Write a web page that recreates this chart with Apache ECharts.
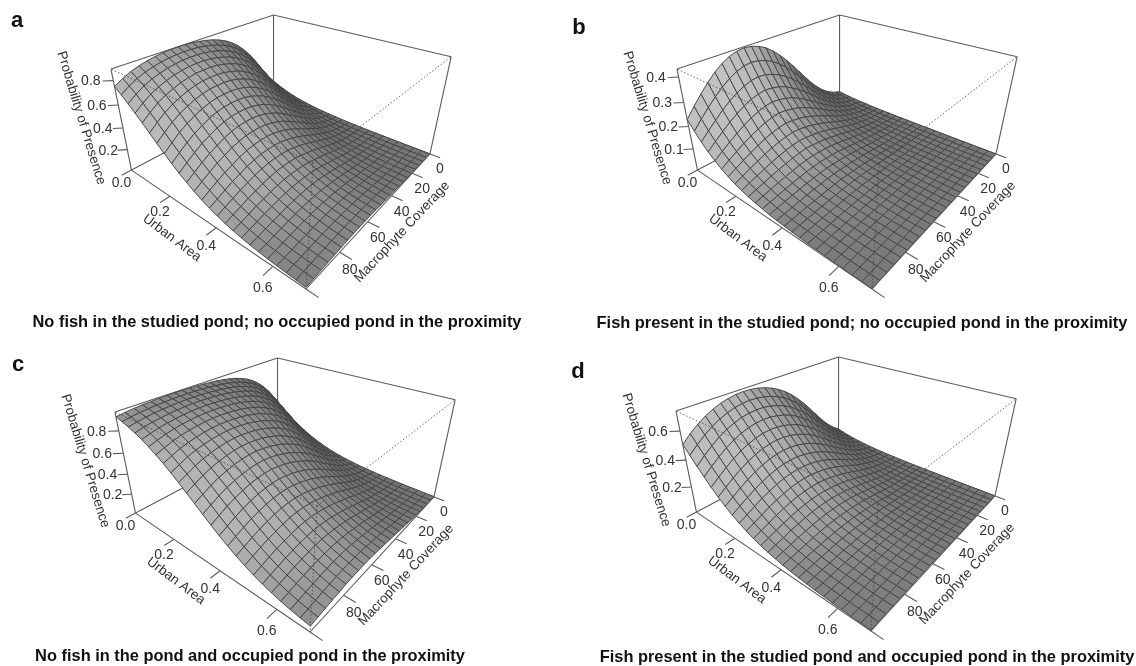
<!DOCTYPE html>
<html><head><meta charset="utf-8">
<style>html,body{margin:0;padding:0;background:#fff}#c{width:1136px;height:666px;filter:blur(.35px)}</style>
<script src="https://cdn.jsdelivr.net/npm/echarts@6/dist/echarts.min.js"></script></head>
<body><div id="c"></div>
<script>
const urbanTicks=[0,.2,.4,.6], macroTicks=[0,20,40,60,80,100];
const urbanMax=.7, macroMax=100;
// rows: macrophyte coverage 0..100, columns: urban area 0..0.7
const zA=[
[.169,.140,.115,.094,.077,.063,.051,.041,.033,.027,.022,.018,.014,.011,.009,.007,.006,.005,.004,.003,.003,.002,.002,.001,.001],
[.242,.203,.170,.141,.116,.095,.078,.063,.052,.042,.034,.027,.022,.018,.014,.012,.009,.008,.006,.005,.004,.003,.003,.002,.002],
[.327,.280,.238,.200,.167,.139,.115,.094,.077,.063,.051,.041,.033,.027,.022,.018,.014,.011,.009,.007,.006,.005,.004,.003,.003],
[.417,.364,.314,.269,.228,.191,.159,.132,.109,.090,.073,.060,.049,.040,.032,.026,.021,.017,.014,.011,.009,.007,.006,.005,.004],
[.507,.451,.397,.345,.297,.253,.214,.179,.149,.123,.101,.082,.067,.055,.044,.036,.029,.023,.019,.015,.012,.010,.008,.006,.005],
[.589,.534,.478,.423,.370,.320,.274,.232,.195,.162,.134,.110,.090,.073,.060,.048,.039,.032,.026,.021,.017,.013,.011,.009,.007],
[.659,.607,.553,.498,.443,.389,.338,.291,.248,.209,.175,.145,.120,.098,.080,.065,.053,.043,.035,.028,.023,.018,.015,.012,.010],
[.718,.671,.620,.567,.512,.457,.403,.351,.302,.258,.218,.183,.152,.126,.103,.084,.069,.056,.045,.037,.030,.024,.019,.016,.013],
[.764,.722,.675,.625,.572,.517,.462,.407,.355,.306,.262,.221,.186,.154,.128,.105,.086,.070,.057,.046,.037,.030,.024,.020,.016],
[.801,.763,.721,.674,.624,.570,.515,.460,.405,.353,.304,.260,.220,.184,.153,.127,.104,.085,.069,.056,.046,.037,.030,.024,.020],
[.829,.795,.756,.713,.666,.615,.562,.506,.451,.397,.345,.297,.253,.214,.179,.149,.123,.101,.082,.067,.055,.044,.036,.029,.023],
[.850,.820,.785,.746,.702,.654,.602,.547,.492,.437,.383,.332,.285,.242,.204,.170,.141,.116,.095,.078,.063,.052,.042,.034,.027],
[.865,.837,.805,.768,.727,.681,.631,.578,.523,.468,.413,.361,.311,.266,.224,.188,.156,.129,.106,.087,.071,.057,.047,.038,.030],
[.876,.850,.820,.785,.746,.702,.654,.602,.548,.492,.437,.383,.332,.285,.242,.204,.170,.141,.116,.095,.078,.063,.052,.042,.034],
[.884,.860,.831,.798,.760,.717,.670,.619,.565,.510,.455,.400,.349,.300,.256,.216,.181,.151,.125,.102,.084,.068,.056,.045,.037],
[.888,.864,.836,.804,.767,.725,.678,.627,.574,.519,.464,.409,.357,.308,.263,.222,.186,.155,.129,.106,.086,.070,.057,.046,.037],
[.889,.865,.837,.804,.767,.725,.678,.628,.575,.520,.465,.410,.358,.309,.264,.223,.187,.155,.129,.106,.086,.071,.057,.046,.038],
[.887,.863,.835,.802,.765,.723,.676,.625,.572,.517,.462,.407,.355,.306,.262,.221,.185,.154,.127,.105,.085,.069,.056,.046,.037],
[.882,.857,.827,.793,.755,.712,.664,.613,.559,.504,.449,.394,.343,.295,.251,.212,.177,.147,.121,.100,.081,.066,.054,.044,.035],
[.874,.847,.816,.780,.740,.695,.646,.594,.540,.485,.430,.376,.326,.279,.237,.200,.166,.138,.114,.093,.076,.062,.050,.041,.033],
[.861,.832,.798,.760,.717,.670,.619,.566,.511,.455,.400,.349,.300,.256,.216,.181,.150,.124,.102,.083,.068,.055,.045,.036,.029],
[.844,.813,.777,.736,.691,.642,.590,.535,.480,.425,.372,.322,.275,.234,.197,.164,.136,.112,.092,.075,.061,.049,.040,.032,.026],
[.822,.787,.748,.704,.656,.604,.550,.495,.439,.385,.334,.287,.244,.205,.171,.142,.117,.096,.078,.064,.052,.042,.034,.028,.022],
[.791,.752,.708,.660,.609,.555,.500,.444,.390,.339,.291,.248,.209,.174,.145,.120,.098,.080,.065,.053,.043,.035,.028,.023,.018],
[.752,.708,.660,.609,.555,.500,.444,.390,.339,.291,.248,.209,.174,.145,.120,.098,.080,.065,.053,.043,.035,.028,.023,.018,.015]];
const zB=[
[.020,.016,.013,.010,.008,.007,.005,.004,.003,.003,.002,.002,.002,.001,.001,.001,.001,.001,0,0,0,0,0,0,0],
[.030,.024,.020,.016,.013,.010,.008,.007,.005,.004,.003,.003,.002,.002,.001,.001,.001,.001,.001,.001,0,0,0,0,0],
[.045,.036,.029,.024,.019,.015,.012,.010,.008,.006,.005,.004,.003,.003,.002,.002,.001,.001,.001,.001,.001,0,0,0,0],
[.064,.052,.042,.034,.027,.022,.018,.014,.012,.009,.008,.006,.005,.004,.003,.003,.002,.002,.001,.001,.001,.001,.001,0,0],
[.089,.073,.059,.048,.039,.031,.025,.020,.016,.013,.011,.009,.007,.006,.005,.004,.003,.002,.002,.002,.001,.001,.001,.001,0],
[.119,.098,.080,.065,.053,.043,.035,.028,.023,.018,.015,.012,.010,.008,.006,.005,.004,.003,.003,.002,.002,.001,.001,.001,.001],
[.154,.127,.105,.086,.070,.057,.046,.037,.030,.024,.020,.016,.013,.010,.008,.007,.005,.004,.004,.003,.002,.002,.002,.001,.001],
[.192,.160,.132,.109,.089,.073,.059,.048,.039,.032,.025,.021,.017,.013,.011,.009,.007,.006,.005,.004,.003,.002,.002,.002,.001],
[.232,.195,.162,.134,.110,.090,.073,.060,.048,.039,.032,.026,.021,.017,.014,.011,.009,.007,.006,.005,.004,.003,.002,.002,.002],
[.272,.231,.194,.161,.133,.110,.090,.073,.059,.048,.039,.032,.026,.021,.017,.013,.011,.009,.007,.006,.005,.004,.003,.002,.002],
[.309,.264,.223,.187,.155,.129,.105,.086,.070,.057,.046,.037,.030,.025,.020,.016,.013,.010,.008,.007,.005,.004,.004,.003,.002],
[.343,.295,.251,.212,.177,.147,.121,.099,.081,.066,.054,.044,.035,.029,.023,.019,.015,.012,.010,.008,.006,.005,.004,.003,.003],
[.372,.322,.274,.232,.195,.162,.134,.110,.090,.073,.060,.048,.039,.032,.026,.021,.017,.014,.011,.009,.007,.006,.005,.004,.003],
[.396,.344,.295,.251,.212,.177,.147,.121,.099,.081,.066,.054,.044,.035,.029,.023,.019,.015,.012,.010,.008,.006,.005,.004,.004],
[.412,.360,.309,.264,.223,.187,.155,.129,.105,.086,.070,.057,.046,.037,.030,.025,.020,.016,.013,.010,.008,.007,.005,.004,.004],
[.422,.370,.319,.272,.231,.194,.161,.134,.110,.090,.073,.059,.048,.039,.032,.026,.021,.017,.014,.011,.009,.007,.006,.005,.004],
[.426,.374,.323,.276,.235,.198,.165,.137,.113,.093,.075,.061,.050,.040,.033,.026,.021,.017,.014,.011,.009,.007,.006,.005,.004],
[.422,.370,.319,.272,.231,.194,.161,.134,.110,.090,.073,.059,.048,.039,.032,.026,.021,.017,.014,.011,.009,.007,.006,.005,.004],
[.411,.359,.308,.263,.222,.186,.155,.128,.105,.086,.070,.057,.046,.037,.030,.024,.020,.016,.013,.010,.008,.007,.005,.004,.004],
[.394,.342,.293,.249,.210,.175,.146,.120,.098,.080,.065,.053,.043,.035,.028,.023,.018,.015,.012,.010,.008,.006,.005,.004,.004],
[.371,.320,.273,.231,.194,.161,.133,.110,.090,.073,.059,.048,.039,.032,.025,.021,.017,.013,.011,.009,.007,.006,.005,.004,.003],
[.341,.293,.249,.210,.175,.146,.120,.098,.080,.065,.053,.043,.035,.028,.023,.018,.015,.012,.010,.008,.006,.005,.004,.003,.003],
[.307,.262,.221,.186,.155,.128,.105,.086,.070,.057,.046,.037,.030,.024,.020,.016,.013,.010,.008,.007,.005,.004,.003,.003,.002],
[.270,.229,.192,.160,.132,.109,.089,.072,.059,.048,.039,.031,.025,.020,.016,.013,.011,.009,.007,.006,.005,.004,.003,.002,.002],
[.230,.193,.161,.133,.110,.090,.073,.059,.048,.039,.032,.026,.021,.017,.014,.011,.009,.007,.006,.005,.004,.003,.002,.002,.001]];
const zC=[
[.460,.405,.352,.303,.259,.219,.184,.153,.127,.104,.085,.069,.056,.046,.037,.030,.024,.020,.016,.013,.010,.008,.007,.005,.004],
[.553,.498,.443,.389,.338,.291,.248,.209,.175,.145,.120,.098,.080,.065,.053,.043,.035,.028,.023,.018,.015,.012,.010,.008,.006],
[.637,.584,.530,.474,.419,.366,.316,.271,.230,.193,.161,.133,.110,.090,.073,.059,.048,.039,.032,.026,.021,.017,.013,.011,.009],
[.709,.661,.610,.556,.501,.445,.391,.340,.292,.249,.210,.175,.146,.120,.098,.080,.065,.053,.043,.035,.028,.023,.018,.015,.012],
[.767,.725,.678,.627,.574,.519,.464,.409,.357,.308,.263,.222,.186,.155,.129,.106,.086,.070,.057,.046,.037,.030,.024,.020,.016],
[.814,.778,.738,.693,.644,.592,.538,.482,.427,.374,.324,.277,.236,.198,.166,.137,.113,.093,.076,.062,.050,.041,.033,.027,.022],
[.850,.820,.785,.746,.702,.654,.602,.547,.492,.437,.383,.332,.285,.242,.204,.170,.141,.116,.095,.078,.063,.052,.042,.034,.027],
[.877,.851,.821,.786,.747,.703,.655,.603,.549,.493,.438,.384,.333,.286,.243,.205,.171,.142,.117,.096,.078,.064,.052,.042,.034],
[.898,.876,.851,.821,.786,.747,.703,.655,.603,.549,.493,.438,.384,.333,.286,.243,.205,.171,.142,.117,.096,.078,.064,.052,.042],
[.914,.895,.872,.846,.815,.779,.739,.694,.646,.594,.539,.484,.429,.376,.325,.279,.237,.199,.166,.138,.114,.093,.076,.062,.050],
[.926,.910,.890,.866,.839,.807,.770,.729,.683,.633,.580,.525,.470,.415,.363,.313,.268,.227,.190,.158,.131,.108,.088,.072,.058],
[.936,.921,.903,.882,.857,.828,.794,.755,.712,.664,.613,.559,.504,.449,.394,.343,.295,.251,.212,.177,.147,.121,.099,.081,.066],
[.942,.929,.913,.894,.871,.844,.813,.777,.736,.691,.642,.590,.535,.480,.425,.372,.322,.275,.234,.197,.164,.136,.112,.092,.075],
[.947,.935,.920,.903,.882,.857,.828,.794,.755,.712,.664,.613,.559,.504,.449,.394,.343,.295,.251,.212,.177,.147,.121,.099,.081],
[.951,.940,.926,.910,.890,.867,.839,.807,.770,.729,.683,.633,.580,.525,.470,.415,.363,.313,.268,.227,.190,.158,.131,.108,.088],
[.953,.943,.930,.914,.895,.873,.846,.815,.780,.739,.694,.646,.594,.539,.484,.429,.376,.325,.279,.237,.199,.166,.138,.114,.093],
[.955,.945,.932,.917,.899,.877,.851,.821,.787,.748,.704,.656,.604,.550,.495,.439,.385,.334,.287,.244,.205,.171,.142,.117,.096],
[.955,.945,.933,.918,.899,.878,.852,.822,.788,.749,.705,.657,.605,.551,.496,.440,.386,.335,.288,.245,.206,.172,.143,.118,.096],
[.954,.944,.931,.916,.897,.875,.849,.819,.784,.745,.701,.652,.600,.546,.490,.435,.381,.331,.284,.241,.203,.169,.141,.116,.095],
[.952,.941,.928,.912,.893,.870,.843,.812,.776,.735,.690,.641,.588,.534,.479,.423,.370,.320,.274,.232,.195,.162,.135,.111,.091],
[.949,.937,.923,.906,.886,.862,.834,.801,.764,.722,.675,.624,.570,.515,.460,.405,.353,.304,.260,.220,.184,.153,.127,.104,.085],
[.945,.932,.917,.898,.876,.851,.821,.786,.747,.703,.655,.603,.549,.493,.438,.384,.333,.286,.243,.205,.171,.142,.117,.096,.078],
[.939,.925,.908,.888,.864,.836,.804,.767,.725,.678,.627,.574,.519,.464,.409,.357,.308,.263,.222,.186,.155,.129,.106,.086,.070],
[.931,.915,.896,.873,.846,.815,.779,.739,.694,.645,.593,.538,.483,.428,.375,.325,.278,.237,.199,.166,.138,.113,.093,.076,.062],
[.920,.902,.881,.856,.826,.792,.753,.710,.662,.611,.557,.502,.446,.392,.341,.293,.250,.211,.176,.146,.121,.099,.081,.066,.054]];
const zD=[
[.080,.065,.053,.043,.035,.028,.023,.018,.015,.012,.010,.008,.006,.005,.004,.003,.003,.002,.002,.001,.001,.001,.001,.001,.001],
[.116,.095,.078,.063,.052,.042,.034,.027,.022,.018,.014,.012,.009,.008,.006,.005,.004,.003,.003,.002,.002,.001,.001,.001,.001],
[.161,.133,.110,.090,.073,.059,.048,.039,.032,.026,.021,.017,.014,.011,.009,.007,.006,.005,.004,.003,.002,.002,.002,.001,.001],
[.214,.179,.149,.123,.101,.082,.067,.055,.044,.036,.029,.023,.019,.015,.012,.010,.008,.006,.005,.004,.003,.003,.002,.002,.001],
[.274,.233,.196,.163,.135,.111,.091,.074,.060,.049,.040,.032,.026,.021,.017,.014,.011,.009,.007,.006,.005,.004,.003,.002,.002],
[.338,.291,.248,.209,.175,.145,.120,.098,.080,.065,.053,.043,.035,.028,.023,.018,.015,.012,.010,.008,.006,.005,.004,.003,.003],
[.402,.350,.301,.257,.217,.182,.152,.125,.103,.084,.069,.056,.045,.037,.030,.024,.019,.016,.013,.010,.008,.007,.005,.004,.004],
[.463,.408,.355,.306,.262,.221,.186,.154,.128,.105,.086,.070,.057,.046,.037,.030,.024,.020,.016,.013,.010,.008,.007,.005,.004],
[.518,.463,.408,.355,.306,.262,.221,.186,.154,.128,.105,.086,.070,.057,.046,.037,.030,.024,.020,.016,.013,.010,.008,.007,.005],
[.567,.512,.457,.403,.351,.302,.258,.218,.183,.152,.126,.103,.084,.069,.056,.045,.037,.030,.024,.019,.016,.013,.010,.008,.007],
[.608,.554,.499,.444,.390,.339,.291,.248,.209,.175,.145,.120,.098,.080,.065,.053,.043,.035,.028,.023,.018,.015,.012,.010,.008],
[.641,.590,.535,.480,.425,.372,.322,.275,.234,.197,.164,.136,.112,.092,.075,.061,.049,.040,.032,.026,.021,.017,.014,.011,.009],
[.668,.617,.564,.509,.454,.399,.347,.299,.255,.215,.180,.150,.124,.102,.083,.067,.055,.044,.036,.029,.023,.019,.015,.012,.010],
[.687,.638,.585,.531,.475,.420,.367,.317,.272,.230,.193,.161,.133,.110,.090,.073,.059,.048,.039,.032,.026,.021,.017,.013,.011],
[.701,.652,.600,.546,.491,.435,.381,.331,.284,.241,.203,.169,.140,.116,.095,.077,.063,.051,.041,.034,.027,.022,.018,.014,.012],
[.709,.661,.610,.556,.501,.445,.391,.340,.292,.249,.210,.175,.146,.120,.098,.080,.065,.053,.043,.035,.028,.023,.018,.015,.012],
[.711,.664,.612,.559,.504,.448,.393,.342,.294,.250,.212,.177,.147,.121,.099,.081,.066,.054,.044,.035,.029,.023,.019,.015,.012],
[.708,.660,.609,.555,.500,.444,.390,.339,.291,.248,.209,.175,.145,.120,.098,.080,.065,.053,.043,.035,.028,.023,.018,.015,.012],
[.699,.651,.599,.545,.489,.434,.380,.330,.283,.241,.202,.169,.140,.115,.095,.077,.063,.051,.041,.034,.027,.022,.018,.014,.012],
[.685,.635,.582,.528,.472,.417,.364,.315,.269,.228,.192,.160,.132,.109,.089,.072,.059,.048,.039,.031,.025,.020,.016,.013,.010],
[.664,.613,.559,.504,.449,.394,.343,.295,.251,.212,.177,.147,.121,.099,.081,.066,.054,.044,.035,.029,.023,.019,.015,.012,.010],
[.637,.584,.530,.474,.419,.366,.316,.271,.230,.193,.161,.133,.110,.090,.073,.059,.048,.039,.032,.026,.021,.017,.013,.011,.009],
[.602,.547,.492,.437,.383,.332,.285,.242,.204,.170,.141,.116,.095,.078,.063,.052,.042,.034,.027,.022,.018,.014,.012,.009,.008],
[.560,.504,.449,.394,.343,.295,.251,.212,.177,.147,.121,.099,.081,.066,.054,.044,.035,.029,.023,.019,.015,.012,.010,.008,.006],
[.510,.455,.400,.349,.300,.256,.216,.181,.151,.125,.102,.084,.068,.056,.045,.037,.030,.024,.019,.016,.013,.010,.008,.007,.005]];
const panels=[
{tag:'a',title:'No fish in the studied pond; no occupied pond in the proximity',grid:[110,15],zMax:.89,zTicks:[.2,.4,.6,.8],z:zA,tx:277,ty:322,lx:17,ly:21},
{tag:'b',title:'Fish present in the studied pond; no occupied pond in the proximity',grid:[676,15],zMax:.43,zTicks:[.1,.2,.3,.4],z:zB,tx:862,ty:323,lx:579,ly:28},
{tag:'c',title:'No fish in the pond and occupied pond in the proximity',grid:[114,358],zMax:.96,zTicks:[.2,.4,.6,.8],z:zC,tx:250,ty:656,lx:18,ly:365},
{tag:'d',title:'Fish present in the studied pond and occupied pond in the proximity',grid:[675,357],zMax:.73,zTicks:[.2,.4,.6],z:zD,tx:867,ty:657,lx:578,ly:372}];
const W=340,H=274;
const V={bb:[.481,.292],lb:[.0632,.566],rb:[.941,.507],fb:[.5765,1],bt:[.481,0],ft:[.5724,.54]};
// projective camera fitted to the box corners
const sub=(p,q)=>[p[0]-q[0],p[1]-q[1]];
const R0=sub(V.rb,V.fb),L0=sub(V.lb,V.fb);
const rhs=[V.fb[0]+V.bb[0]-V.rb[0]-V.lb[0],V.fb[1]+V.bb[1]-V.rb[1]-V.lb[1]];
const det=R0[0]*L0[1]-R0[1]*L0[0];
const ca=(rhs[0]*L0[1]-rhs[1]*L0[0])/det, cb=(R0[0]*rhs[1]-R0[1]*rhs[0])/det;
const s0=V.rb[1]*(1+ca)+V.lb[1]*(1+cb)+V.bt[1]-2*V.bb[1];
const cc=(V.ft[1]*(1+ca+cb)-s0)/(V.bt[1]-V.ft[1]);
const CA=[0,1].map(k=>V.rb[k]*(1+ca)-V.bb[k]),CB=[0,1].map(k=>V.lb[k]*(1+cb)-V.bb[k]),CC=[0,1].map(k=>V.bt[k]*(1+cc)-V.bb[k]);
function view(u,v,h){const w=1+ca*u+cb*v+cc*h;return [(V.bb[0]+CA[0]*u+CB[0]*v+CC[0]*h)/w,(V.bb[1]+CA[1]*u+CB[1]*v+CC[1]*h)/w];}
const backEdges=[[0,1,0,0,0,0],[1,0,0,0,0,0],[0,0,0,0,0,1],[0,1,0,0,1,1],[1,0,0,1,0,1],[0,1,1,0,0,1],[1,0,1,0,0,1]];
const frontDotted=[[1,1,1,0,1,1],[1,1,1,1,0,1],[1,1,1,1,1,0]];
const frontSolid=[[0,1,0,1,1,0],[1,0,0,1,1,0]];
const TXT='#333',FONT='"Liberation Sans",Arial,sans-serif';
function gray(n){const s=Math.round(Math.max(30,Math.min(200,n)));return `rgb(${s},${s},${s})`;}
const grid=[],xAxis=[],yAxis=[],series=[],title=[];
panels.forEach((p,ix)=>{
 grid.push({left:p.grid[0],top:p.grid[1],width:W,height:H,containLabel:false});
 xAxis.push({gridIndex:ix,show:false,min:0,max:1,type:'value'});
 yAxis.push({gridIndex:ix,show:false,min:0,max:1,type:'value',inverse:true});
 title.push({text:p.title,left:p.tx,top:p.ty,textAlign:'center',textVerticalAlign:'middle',padding:0,textStyle:{fontFamily:FONT,fontSize:16.4,fontWeight:'bold',color:'#111'}});
 title.push({text:p.tag,left:p.lx,top:p.ly,textAlign:'center',textVerticalAlign:'middle',padding:0,textStyle:{fontFamily:FONT,fontSize:22,fontWeight:'bold',color:'#111'}});
 const base={type:'custom',coordinateSystem:'cartesian2d',xAxisIndex:ix,yAxisIndex:ix,silent:true,animation:false,clip:false,progressive:0};
 const seg=(list,style,z)=>({...base,z,data:list.map(e=>e.slice()),renderItem(par,api){
   const e=list[par.dataIndex],a=api.coord(view(e[0],e[1],e[2])),b=api.coord(view(e[3],e[4],e[5]));
   return {type:'line',shape:{x1:a[0],y1:a[1],x2:b[0],y2:b[1]},style};}});
 series.push(seg(backEdges,{stroke:'#5c5c5c',lineWidth:1.1,fill:null},1));
 const Z=p.z,nj=Z.length,ni=Z[0].length,quads=[];
 for(let s=0;s<=ni+nj-4;s++)for(let i=0;i<ni-1;i++){const j=s-i;if(j<0||j>=nj-1)continue;quads.push([i,j]);}
 series.push({...base,z:2,data:quads,renderItem(par,api){
   const [i,j]=quads[par.dataIndex],du=1/(ni-1),dv=1/(nj-1);
   const q=[[i,j],[i+1,j],[i+1,j+1],[i,j+1]];
   const pts=q.map(([a,b])=>api.coord(view(a*du,b*dv,Z[b][a]/p.zMax)));
   const k=.75/p.zMax;
   const i0=Math.max(0,i-1),i1=Math.min(ni-1,i+2),j0=Math.max(0,j-1),j1=Math.min(nj-1,j+2);
   const zu=k*((Z[j][i1]+Z[j+1][i1])-(Z[j][i0]+Z[j+1][i0]))/2/((i1-i0)*du);
   const zv=k*((Z[j1][i]+Z[j1][i+1])-(Z[j0][i]+Z[j0][i+1]))/2/((j1-j0)*dv);
   const l=Math.sqrt(zu*zu+zv*zv+1),nu=-zu/l,nv=-zv/l;
   return {type:'polygon',shape:{points:pts},style:{fill:gray(120+70*nu+(nv>0?40:80)*nv),stroke:'#454545',lineWidth:.95}};}});
 series.push(seg(frontDotted,{stroke:'#444',lineWidth:.8,lineDash:[1.5,2],fill:null},3));
 series.push(seg(frontSolid,{stroke:'#5c5c5c',lineWidth:1.1,fill:null},3));
 const tickSegs=[],labels=[];
 urbanTicks.forEach(t=>{const u=t/urbanMax;tickSegs.push([u,1,0,u,1.05,0]);labels.push({pos:[u,1,0],off:[-10,13+10*u],text:t.toFixed(1)});});
 macroTicks.forEach(t=>{const v=t/macroMax;tickSegs.push([1,v,0,1.05,v,0]);if(t<100)labels.push({pos:[1,v,0],off:[10,15+3*v],text:String(t)});});
 p.zTicks.forEach(t=>{const h=t/p.zMax;tickSegs.push([0,1,h,-.03,1.03,h]);labels.push({pos:[0,1,h],off:[-18-5*h,1],text:t.toFixed(1)});});
 series.push(seg(tickSegs,{stroke:'#5c5c5c',lineWidth:1.1,fill:null},3));
 series.push({...base,z:4,data:labels.map((l,k)=>[k]),renderItem(par,api){
   const l=labels[par.dataIndex],a=api.coord(view(...l.pos));
   return {type:'text',x:a[0]+l.off[0],y:a[1]+l.off[1],style:{text:l.text,fill:TXT,font:'14px '+FONT,align:'center',verticalAlign:'middle'}};}});
 const names=[{at:[-.085,.376],rot:-73,text:'Probability of Presence'},{at:[.182,.814],rot:-37,text:'Urban Area'},{at:[.859,.792],rot:47,text:'Macrophyte Coverage'}];
 series.push({...base,z:4,data:names.map((n,k)=>[k]),renderItem(par,api){
   const n=names[par.dataIndex],a=api.coord(n.at);
   return {type:'text',x:a[0],y:a[1],rotation:n.rot*Math.PI/180,style:{text:n.text,fill:TXT,font:'13.5px '+FONT,align:'center',verticalAlign:'middle'}};}});
});
const chart=echarts.init(document.getElementById('c'),null,{renderer:'canvas'});
chart.setOption({animation:false,backgroundColor:'#fff',title,grid,xAxis,yAxis,series});
</script></body></html>
